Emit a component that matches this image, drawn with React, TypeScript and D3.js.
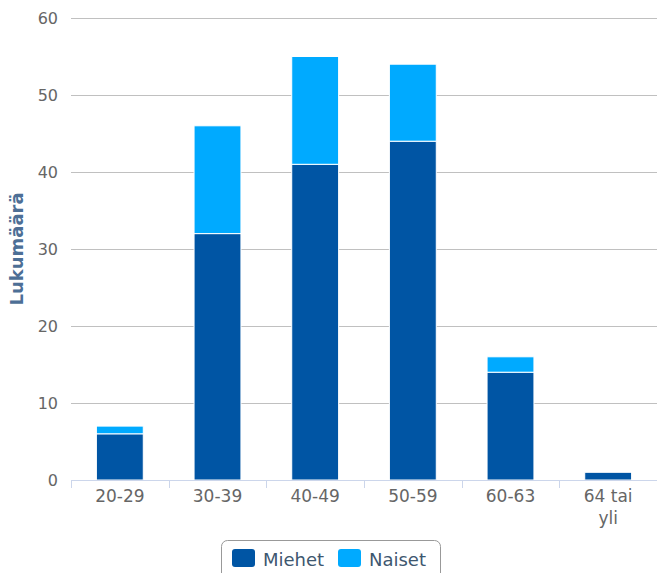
import * as d3 from 'd3'

const categories = ['20-29', '30-39', '40-49', '50-59', '60-63', '64 tai yli']
const miehet = [6, 32, 41, 44, 14, 1]
const naiset = [1, 14, 14, 10, 2, 0]
const yTicks = [0, 10, 20, 30, 40, 50, 60]
const seriesNames = ['Miehet', 'Naiset']
const colors = ['#0055a4', '#00aaff']

const W = 657
const H = 573
const FONT = '"DejaVu Sans", Verdana, sans-serif'

export default function App() {
  const margin = { top: 18, right: 0, bottom: 93, left: 71 }
  const innerW = W - margin.left - margin.right
  const innerH = H - margin.top - margin.bottom

  const x = d3.scaleBand<string>().domain(categories).range([0, innerW]).paddingInner(0.52).paddingOuter(0.26)
  const y = d3.scaleLinear().domain([0, 60]).range([innerH, 0])

  const stack = d3.stack<number>()
    .keys(['0', '1'])
    .value((i, key) => (key === '0' ? miehet[i] : naiset[i]))
  const layers = stack(categories.map((_, i) => i))

  const step = innerW / categories.length

  return (
    <svg width={W} height={H} style={{ position: 'absolute', left: 0, top: 0, fontFamily: FONT }}>
      <g transform={`translate(${margin.left},${margin.top})`}>
        {/* gridlines */}
        {yTicks.map(t => (
          <g key={t}>
            {t > 0 && (
              <line x1={0} x2={innerW} y1={Math.round(y(t)) + 0.5} y2={Math.round(y(t)) + 0.5} stroke="#c0c0c0" strokeWidth={1} />
            )}
            <text x={-13} y={y(t)} dy="0.35em" textAnchor="end" fontSize={16} fill="#666">{t}</text>
          </g>
        ))}

        {/* bars */}
        {layers.map((layer, li) =>
          layer.map((d, i) => {
            const h = y(d[0]) - y(d[1])
            if (h <= 0) return null
            return (
              <rect
                key={`${li}-${i}`}
                x={x(categories[i])!}
                y={y(d[1])}
                width={x.bandwidth()}
                height={h}
                fill={colors[li]}
                stroke="#fff"
                strokeWidth={1}
              />
            )
          }),
        )}

        {/* x axis */}
        <line x1={0} x2={innerW} y1={innerH + 0.5} y2={innerH + 0.5} stroke="#ccd6eb" strokeWidth={1} />
        {d3.range(categories.length + 1).map(i => (
          <line key={i} x1={Math.round(i * step) + 0.5} x2={Math.round(i * step) + 0.5} y1={innerH} y2={innerH + 8} stroke="#ccd6eb" strokeWidth={1} />
        ))}
        {categories.map(c => {
          const parts = c === '64 tai yli' ? ['64 tai', 'yli'] : [c]
          return (
            <text key={c} x={x(c)! + x.bandwidth() / 2} y={innerH + 22} textAnchor="middle" fontSize={17} fill="#666">
              {parts.map((p, j) => (
                <tspan key={j} x={x(c)! + x.bandwidth() / 2} dy={j === 0 ? 0 : 22}>{p}</tspan>
              ))}
            </text>
          )
        })}
      </g>

      {/* y title */}
      <text
        transform={`translate(23,${margin.top + innerH / 2}) rotate(-90)`}
        textAnchor="middle"
        fontSize={18}
        fontWeight="bold"
        fill="#4d6f96"
      >
        Lukumäärä
      </text>

      {/* legend */}
      <g transform="translate(221,540)">
        <rect x={0.5} y={0.5} width={219} height={44} rx={6} fill="#fff" stroke="#999" strokeWidth={1} />
        {seriesNames.map((s, i) => (
          <g key={s} transform={`translate(${11 + i * 106},9)`}>
            <rect width={23} height={18} rx={3} fill={colors[i]} />
            <text x={31} y={17} fontSize={18} fill="#3e576f">{s}</text>
          </g>
        ))}
      </g>
    </svg>
  )
}
